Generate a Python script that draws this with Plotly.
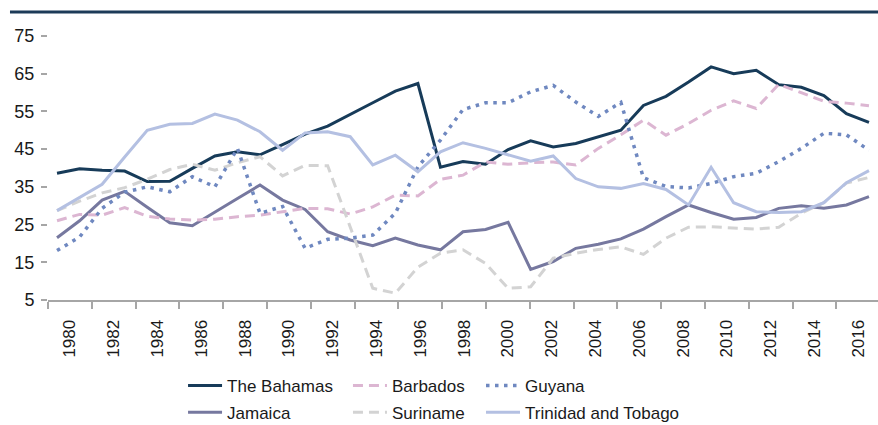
import plotly.graph_objects as go

# Years and series values (percent)
years = list(range(1980, 2017))

bahamas = [38.6, 39.8, 39.4, 39.2, 36.4, 36.5, 39.9, 43.2, 44.3, 43.5,
           46.2, 49.0, 51.1, 54.3, 57.3, 60.4, 62.4, 40.2, 41.7, 41.0,
           44.9, 47.2, 45.6, 46.5, 48.3, 50.0, 56.6, 59.0, 62.8, 66.8,
           65.0, 65.9, 62.1, 61.4, 59.2, 54.4, 52.1]
barbados = [26.0, 27.7, 27.5, 29.5, 27.2, 26.5, 26.2, 26.4, 27.1, 27.5,
            28.4, 29.3, 29.2, 27.8, 29.7, 32.8, 32.6, 37.0, 38.1, 41.6,
            41.0, 41.4, 41.6, 40.8, 45.2, 48.8, 52.7, 48.7, 51.8, 55.3,
            57.8, 55.8, 62.2, 60.0, 57.7, 57.2, 56.5]
guyana = [18.1, 21.7, 29.3, 33.6, 35.0, 33.7, 37.7, 35.0, 45.2, 28.0,
          29.8, 18.7, 21.1, 21.4, 22.2, 28.0, 40.3, 47.4, 55.5, 57.3,
          57.3, 60.2, 61.9, 57.5, 53.7, 57.4, 37.4, 35.1, 34.7, 35.9,
          37.7, 38.6, 41.7, 45.2, 49.2, 48.8, 44.7]
jamaica = [21.5, 26.0, 31.5, 33.8, 29.6, 25.5, 24.7, 28.4, 31.9, 35.5,
           31.5, 29.0, 23.1, 20.9, 19.4, 21.4, 19.6, 18.3, 23.1, 23.7,
           25.6, 13.1, 15.2, 18.7, 19.8, 21.2, 23.8, 27.1, 30.2, 28.2,
           26.4, 26.9, 29.3, 30.0, 29.3, 30.2, 32.4]
suriname = [28.7, 31.2, 33.4, 34.8, 37.0, 39.6, 41.0, 39.4, 41.4, 43.0,
            37.9, 40.7, 40.6, 24.5, 8.1, 6.8, 13.7, 17.4, 18.3, 14.7,
            8.1, 8.5, 16.1, 17.4, 18.4, 19.1, 17.1, 21.4, 24.3, 24.4,
            24.0, 23.8, 24.3, 28.0, 30.8, 36.0, 37.5]
trinidad = [28.7, 32.2, 35.7, 42.9, 50.0, 51.6, 51.8, 54.3, 52.7, 49.6,
            44.7, 49.3, 49.6, 48.3, 40.8, 43.4, 39.0, 44.3, 46.7, 45.2,
            43.4, 41.8, 43.2, 37.2, 35.0, 34.6, 35.9, 34.3, 30.2, 40.2,
            30.8, 28.4, 28.2, 28.4, 30.8, 36.1, 39.3]

# Axis labels: one every two years, each centred in its two-year band
label_years = list(range(1980, 2017, 2))
label_text = [str(y) for y in label_years]

FONT = "Liberation Sans, Arial, sans-serif"
TEXT_COLOR = "#1a1a1a"
AXIS_GREY = "#a6a6a6"

series = [
    ("The Bahamas", bahamas, "#173b59", "solid", 3, "legend"),
    ("Jamaica", jamaica, "#76789f", "solid", 3, "legend"),
    ("Barbados", barbados, "#dcb6d2", "10px,6px", 3, "legend2"),
    ("Suriname", suriname, "#d3d3d3", "10px,6px", 3, "legend2"),
    ("Guyana", guyana, "#6f88c0", "3.5px,5.5px", 3.5, "legend3"),
    ("Trinidad and Tobago", trinidad, "#b4c0e2", "solid", 3, "legend3"),
]

fig = go.Figure()
for name, vals, color, dash, width, leg in series:
    fig.add_trace(go.Scatter(
        x=years, y=vals, name=name, mode="lines",
        line=dict(color=color, width=width, dash=dash),
        legend=leg, legendgroup=name, hoverinfo="skip",
    ))

# Empty trace that carries the labelled year axis
fig.add_trace(go.Scatter(x=[None], y=[None], xaxis="x2", showlegend=False,
                         hoverinfo="skip"))

legend_common = dict(
    orientation="v", bgcolor="rgba(0,0,0,0)", borderwidth=0,
    font=dict(family=FONT, size=17, color=TEXT_COLOR),
    xanchor="left", yanchor="top", y=-0.2576, itemwidth=34,
    tracegroupgap=1.5,
)

fig.update_layout(
    width=878, height=425,
    margin=dict(l=48, r=0, t=36, b=125, autoexpand=False),
    paper_bgcolor="white", plot_bgcolor="white",
    font=dict(family=FONT, size=17, color=TEXT_COLOR),
    xaxis=dict(
        range=[1979.6, 2016.4], showticklabels=False, ticks="",
        showgrid=False, zeroline=False, showline=False,
    ),
    xaxis2=dict(
        overlaying="x", anchor="y", side="bottom",
        range=[1979.5, 2017.4],
        tickmode="array", tickvals=[y + 0.5 for y in label_years],
        ticktext=label_text, ticks="", tickangle=-90,
        ticklabelstandoff=11,
        tickfont=dict(family=FONT, size=17, color=TEXT_COLOR),
        minor=dict(tickmode="array",
                   tickvals=[y - 0.5 for y in label_years],
                   ticks="outside", ticklen=7, tickcolor=AXIS_GREY,
                   tickwidth=1.5, showgrid=False),
        showline=True, linecolor=AXIS_GREY, linewidth=2,
        showgrid=False, zeroline=False,
    ),
    yaxis=dict(
        range=[5, 75], tickmode="linear", tick0=5, dtick=10,
        ticks="outside", ticklen=6, tickcolor=AXIS_GREY, tickwidth=1.5,
        ticklabelstandoff=3,
        showline=False, showgrid=False, zeroline=False,
        tickfont=dict(family=FONT, size=18, color=TEXT_COLOR),
    ),
    legend=dict(legend_common, x=0.1627),
    legend2=dict(legend_common, x=0.3614),
    legend3=dict(legend_common, x=0.5217),
    shapes=[dict(type="line", xref="paper", yref="paper",
                 x0=-0.0458, x1=1.0, y0=1.0909, y1=1.0909,
                 line=dict(color="#1c3b58", width=3))],
    showlegend=True,
)

fig.write_html("out.html")
